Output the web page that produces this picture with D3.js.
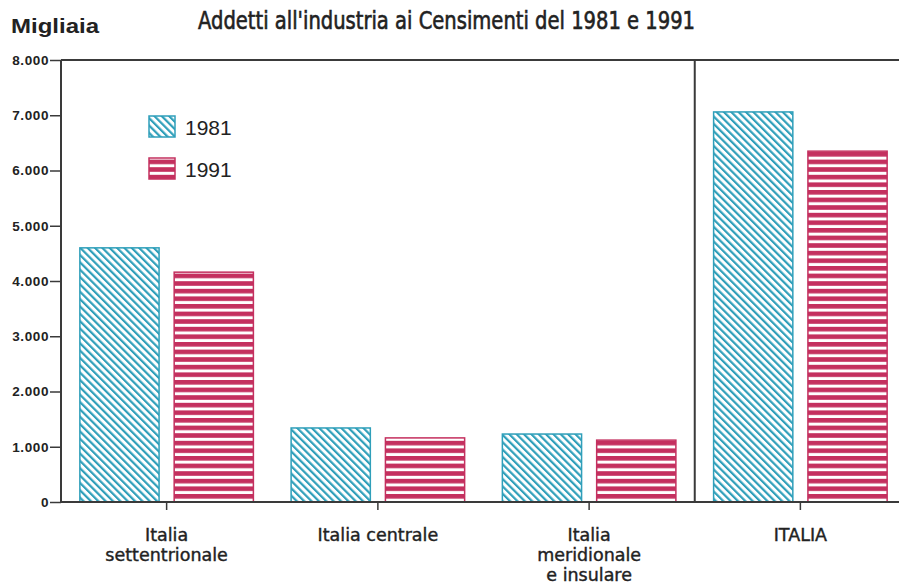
<!DOCTYPE html>
<html><head><meta charset="utf-8">
<script src="https://cdn.jsdelivr.net/npm/d3@7"></script>
<style>
body{margin:0;background:#fff;}
svg{display:block;}
</style></head>
<body>
<svg id="chart" width="899" height="587"></svg>
<script>
const categories = ["Italia settentrionale", "Italia centrale", "Italia meridionale e insulare", "ITALIA"];
const categoryLabels = [["Italia", "settentrionale"], ["Italia centrale"], ["Italia", "meridionale", "e insulare"], ["ITALIA"]];
const series = ["1981", "1991"];
const values1981 = [4600, 1340, 1230, 7060];
const values1991 = [4160, 1160, 1120, 6350];
const yTicks = [0, 1000, 2000, 3000, 4000, 5000, 6000, 7000, 8000];
const yTickLabels = ["0", "1.000", "2.000", "3.000", "4.000", "5.000", "6.000", "7.000", "8.000"];

const teal = "#2f9fba", crimson = "#c4305f", axisCol = "#3a3a3a";
const svg = d3.select("#chart");
const defs = svg.append("defs");
// diagonal hatch (\\\)
const p1 = defs.append("pattern").attr("id","hatch1981").attr("patternUnits","userSpaceOnUse")
  .attr("width",5.2).attr("height",5.2).attr("patternTransform","rotate(-45)");
p1.append("rect").attr("width",5.2).attr("height",5.2).attr("fill","#fff");
p1.append("rect").attr("x",0).attr("y",0).attr("width",2.2).attr("height",5.2).attr("fill",teal);
// horizontal stripes
const p2 = defs.append("pattern").attr("id","hatch1991").attr("patternUnits","userSpaceOnUse")
  .attr("width",8).attr("height",7.6);
p2.append("rect").attr("width",8).attr("height",7.6).attr("fill","#fff");
p2.append("rect").attr("x",0).attr("y",0).attr("width",8).attr("height",4.6).attr("fill",crimson);

const x = d3.scaleBand().domain(categories).range([61, 906]).paddingInner(0).paddingOuter(0);
const xs = d3.scaleBand().domain(series).range([0, x.bandwidth()]).paddingInner(0.16).paddingOuter(0.2);
const y = d3.scaleLinear().domain([0, 8000]).range([502, 60]);

// bars
const data = categories.map((c,i)=>({c, v:[values1981[i], values1991[i]]}));
const g = svg.append("g");
data.forEach(d=>{
  series.forEach((s,j)=>{
    g.append("rect")
      .attr("x", x(d.c)+xs(s)).attr("width", xs.bandwidth())
      .attr("y", y(d.v[j])).attr("height", y(0)-y(d.v[j]))
      .attr("fill", `url(#hatch${s})`)
      .attr("stroke", j===0?teal:crimson).attr("stroke-width",1.5);
  });
});

// y axis
const yAxis = d3.axisLeft(y).tickValues(yTicks).tickFormat((d,i)=>yTickLabels[i]).tickSize(11).tickPadding(1);
const ya = svg.append("g").attr("transform","translate(61,0)").call(yAxis);
ya.select(".domain").remove();
ya.selectAll(".tick line").attr("stroke",axisCol).attr("stroke-width",1.5);
ya.selectAll(".tick text").attr("fill","#222").style("font-family","Liberation Sans, Arial, sans-serif")
  .style("font-weight","bold").style("font-size","13.5px").attr("letter-spacing","0.6");

// frame lines
svg.append("line").attr("x1",61).attr("x2",61).attr("y1",y(8000)).attr("y2",y(0)).attr("stroke",axisCol).attr("stroke-width",2);
svg.append("line").attr("x1",61).attr("x2",899).attr("y1",y(8000)).attr("y2",y(8000)).attr("stroke",axisCol).attr("stroke-width",2);
svg.append("line").attr("x1",61).attr("x2",899).attr("y1",y(0)).attr("y2",y(0)).attr("stroke",axisCol).attr("stroke-width",2);
svg.append("line").attr("x1",x("ITALIA")).attr("x2",x("ITALIA")).attr("y1",y(8000)).attr("y2",y(0)).attr("stroke",axisCol).attr("stroke-width",2);

// x axis
const xAxis = d3.axisBottom(x).tickSize(8).tickFormat("");
const xa = svg.append("g").attr("transform",`translate(0,${y(0)})`).call(xAxis);
xa.select(".domain").remove();
xa.selectAll(".tick line").attr("stroke",axisCol).attr("stroke-width",1.5);
categories.forEach((c,i)=>{
  const t = svg.append("text").attr("x", x(c)+x.bandwidth()/2).attr("y",541)
    .attr("text-anchor","middle").attr("fill","#222").attr("stroke","#222").attr("stroke-width",0.4)
    .style("font-family","DejaVu Sans, sans-serif").style("font-size","17.5px");
  categoryLabels[i].forEach((line,k)=>{
    t.append("tspan").attr("x", x(c)+x.bandwidth()/2).attr("dy", k===0?0:20).text(line);
  });
});

// legend
series.forEach((s,j)=>{
  const ly = 116 + j*42;
  svg.append("rect").attr("x",149).attr("y",ly).attr("width",26).attr("height",21)
    .attr("fill",`url(#hatch${s})`).attr("stroke", j===0?teal:crimson).attr("stroke-width",1.5);
  svg.append("text").attr("x",185).attr("y",ly+19).text(s).attr("fill","#222")
    .style("font-family","Liberation Sans, Arial, sans-serif").style("font-size","21px");
});

// titles
svg.append("text").attr("x",11).attr("y",33).text("Migliaia").attr("fill","#222")
  .attr("textLength",88).attr("lengthAdjust","spacingAndGlyphs")
  .style("font-family","Liberation Sans, Arial, sans-serif").style("font-weight","bold").style("font-size","20px");
svg.append("text").attr("x",198).attr("y",29).text("Addetti all'industria ai Censimenti del 1981 e 1991")
  .attr("fill","#222").attr("stroke","#222").attr("stroke-width",0.6).attr("textLength",497).attr("lengthAdjust","spacingAndGlyphs")
  .style("font-family","DejaVu Sans Condensed, DejaVu Sans, sans-serif").style("font-size","25px");
</script>
</body></html>
